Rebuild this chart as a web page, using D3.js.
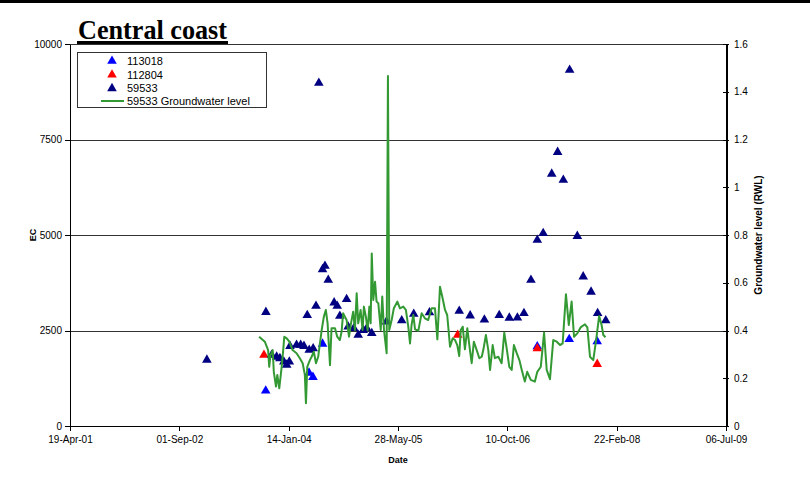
<!DOCTYPE html>
<html>
<head>
<meta charset="utf-8">
<script src="https://d3js.org/d3.v7.min.js"></script>
<style>
  body { margin: 0; background: #fff; }
  text { font-family: "Liberation Sans", Arial, sans-serif; }
  .axis path, .axis line { stroke: #000; shape-rendering: crispEdges; }
  .axis text { font-size: 10px; fill: #000; }
</style>
</head>
<body>
<svg id="chart" width="810" height="477"></svg>
<script>
// ---- data ----
var xTicks = ["2001-04-19", "2002-09-01", "2004-01-14", "2005-05-28", "2006-10-10", "2008-02-22", "2009-07-06"];
var ecTicks = [0, 2500, 5000, 7500, 10000];
var rwlTicks = [0, 0.2, 0.4, 0.6, 0.8, 1, 1.2, 1.4, 1.6];

// EC, bore 113018
var ec113018 = [
  ["2003-10-01", 924], ["2004-04-16", 1390], ["2004-05-04", 1280], ["2004-06-17", 2150],
  ["2007-02-24", 2080], ["2007-07-20", 2270], ["2007-11-25", 2210]
];
// EC, bore 112804
var ec112804 = [
  ["2003-09-23", 1860], ["2006-02-25", 2380], ["2007-02-24", 2030], ["2007-11-25", 1620]
];
// EC, bore 59533
var ec59533 = [
  ["2003-01-05", 1730], ["2003-10-02", 2980], ["2003-10-28", 1860], ["2003-11-20", 1810],
  ["2003-12-05", 1770], ["2003-12-23", 1680], ["2004-01-05", 1600], ["2004-01-17", 1680],
  ["2004-01-20", 2090], ["2004-02-19", 2120], ["2004-03-09", 2120], ["2004-03-24", 2090],
  ["2004-04-17", 1990], ["2004-05-05", 2030], ["2004-04-08", 2900], ["2004-05-18", 3140],
  ["2004-05-31", 8980], ["2004-06-17", 4100], ["2004-06-28", 4190], ["2004-07-13", 3820],
  ["2004-08-09", 3230], ["2004-08-23", 3140], ["2004-09-04", 2880], ["2004-10-05", 3320],
  ["2004-10-12", 2600], ["2004-11-07", 2560], ["2004-11-27", 2380], ["2004-12-20", 2510],
  ["2005-01-05", 2560], ["2005-01-28", 2430], ["2005-04-05", 2730], ["2005-06-14", 2760],
  ["2005-08-08", 2930], ["2005-10-19", 2970], ["2006-03-04", 3010], ["2006-04-23", 2890],
  ["2006-06-27", 2780], ["2006-09-03", 2900], ["2006-10-19", 2830], ["2006-11-25", 2835],
  ["2006-12-25", 2950], ["2007-01-26", 3820], ["2007-02-24", 4870], ["2007-03-23", 5045],
  ["2007-05-01", 6600], ["2007-05-28", 7170], ["2007-06-23", 6440], ["2007-07-22", 9320],
  ["2007-08-26", 4970], ["2007-09-22", 3910], ["2007-10-28", 3510], ["2007-11-27", 2950],
  ["2008-01-03", 2760]
];
// groundwater level (RWL), bore 59533
var rwl59533 = [
  ["2003-09-01", 0.374], ["2003-09-27", 0.353], ["2003-10-12", 0.318], ["2003-10-17", 0.248],
  ["2003-10-23", 0.297], ["2003-11-02", 0.318], ["2003-11-07", 0.227], ["2003-11-17", 0.165],
  ["2003-11-23", 0.214], ["2003-12-02", 0.158], ["2003-12-13", 0.248], ["2003-12-20", 0.318],
  ["2003-12-25", 0.374], ["2004-01-05", 0.367], ["2004-01-17", 0.353], ["2004-02-01", 0.318],
  ["2004-02-19", 0.305], ["2004-03-05", 0.284], ["2004-03-18", 0.263], ["2004-03-28", 0.214],
  ["2004-04-02", 0.095], ["2004-04-08", 0.248], ["2004-04-20", 0.276], ["2004-04-28", 0.290],
  ["2004-05-08", 0.311], ["2004-05-18", 0.263], ["2004-05-28", 0.290], ["2004-06-05", 0.346],
  ["2004-06-13", 0.402], ["2004-06-23", 0.458], ["2004-07-02", 0.486], ["2004-07-10", 0.430],
  ["2004-07-21", 0.255], ["2004-07-28", 0.409], ["2004-08-13", 0.409], ["2004-08-23", 0.374],
  ["2004-09-04", 0.360], ["2004-09-12", 0.395], ["2004-09-19", 0.472], ["2004-09-27", 0.458],
  ["2004-10-05", 0.444], ["2004-10-16", 0.374], ["2004-10-25", 0.430], ["2004-11-04", 0.479],
  ["2004-11-12", 0.402], ["2004-11-20", 0.556], ["2004-11-27", 0.430], ["2004-12-08", 0.486],
  ["2004-12-17", 0.402], ["2004-12-23", 0.500], ["2005-01-01", 0.458], ["2005-01-09", 0.402],
  ["2005-01-17", 0.500], ["2005-01-23", 0.430], ["2005-01-28", 0.723], ["2005-02-04", 0.528],
  ["2005-02-12", 0.604], ["2005-02-19", 0.521], ["2005-02-27", 0.514], ["2005-03-10", 0.402],
  ["2005-03-17", 0.542], ["2005-03-25", 0.402], ["2005-04-06", 0.305], ["2005-04-12", 1.466],
  ["2005-04-18", 0.402], ["2005-04-29", 0.444], ["2005-05-09", 0.493], ["2005-05-25", 0.521],
  ["2005-06-06", 0.493], ["2005-06-21", 0.500], ["2005-07-03", 0.486], ["2005-07-14", 0.416],
  ["2005-07-22", 0.346], ["2005-07-29", 0.423], ["2005-08-06", 0.465], ["2005-08-14", 0.405],
  ["2005-08-29", 0.399], ["2005-09-13", 0.472], ["2005-09-28", 0.451], ["2005-10-13", 0.444],
  ["2005-10-29", 0.493], ["2005-11-13", 0.493], ["2005-11-24", 0.363], ["2005-12-06", 0.583],
  ["2005-12-18", 0.535], ["2005-12-29", 0.486], ["2006-01-08", 0.465], ["2006-01-21", 0.332],
  ["2006-02-02", 0.367], ["2006-02-13", 0.360], ["2006-02-23", 0.339], ["2006-03-04", 0.293],
  ["2006-03-11", 0.402], ["2006-03-20", 0.416], ["2006-03-30", 0.321], ["2006-04-10", 0.409],
  ["2006-04-22", 0.318], ["2006-04-30", 0.263], ["2006-05-10", 0.353], ["2006-05-23", 0.318],
  ["2006-06-04", 0.284], ["2006-06-15", 0.290], ["2006-06-22", 0.318], ["2006-07-04", 0.381],
  ["2006-07-15", 0.318], ["2006-07-23", 0.235], ["2006-08-04", 0.339], ["2006-08-14", 0.284],
  ["2006-08-30", 0.290], ["2006-09-14", 0.263], ["2006-09-26", 0.391], ["2006-10-07", 0.325],
  ["2006-10-19", 0.248], ["2006-10-30", 0.235], ["2006-11-09", 0.339], ["2006-11-22", 0.305],
  ["2006-12-04", 0.276], ["2006-12-15", 0.235], ["2006-12-29", 0.186], ["2007-01-09", 0.227],
  ["2007-01-25", 0.193], ["2007-02-13", 0.186], ["2007-02-24", 0.227], ["2007-03-12", 0.248],
  ["2007-03-27", 0.391], ["2007-04-08", 0.235], ["2007-04-23", 0.196], ["2007-05-08", 0.360],
  ["2007-05-24", 0.353], ["2007-06-08", 0.339], ["2007-06-20", 0.346], ["2007-07-05", 0.552],
  ["2007-07-18", 0.423], ["2007-07-31", 0.521], ["2007-08-11", 0.374], ["2007-08-26", 0.388],
  ["2007-09-10", 0.413], ["2007-09-30", 0.426], ["2007-10-11", 0.413], ["2007-10-23", 0.290],
  ["2007-11-07", 0.276], ["2007-11-19", 0.353], ["2007-12-04", 0.461], ["2007-12-15", 0.423],
  ["2007-12-23", 0.381], ["2008-01-02", 0.372]
];

var parse = d3.timeParse("%Y-%m-%d");

var svg = d3.select("#chart");
var plot = { left: 70, right: 726, top: 44, bottom: 426 };

var x = d3.scaleTime()
    .domain([parse(xTicks[0]), parse(xTicks[xTicks.length - 1])])
    .range([plot.left, plot.right]);
var y = d3.scaleLinear().domain([0, 10000]).range([plot.bottom, plot.top]);
var y2 = d3.scaleLinear().domain([0, 1.6]).range([plot.bottom, plot.top]);

// top rule across the page
svg.append("rect").attr("x", 0).attr("y", 0).attr("width", 810).attr("height", 3).attr("fill", "#000");

// gridlines (plus the top edge of the plot)
svg.append("g").selectAll("line")
    .data(ecTicks.slice(1))
    .enter().append("line")
    .attr("x1", plot.left).attr("x2", plot.right)
    .attr("y1", d => Math.round(y(d)) + 0.5).attr("y2", d => Math.round(y(d)) + 0.5)
    .attr("stroke", "#333").attr("stroke-width", 1);

// axes
svg.append("g")
    .attr("class", "axis")
    .attr("transform", "translate(0," + plot.bottom + ")")
    .call(d3.axisBottom(x)
        .tickValues(xTicks.map(parse))
        .tickSizeInner(5).tickSizeOuter(0).tickPadding(5)
        .tickFormat(d3.timeFormat("%d-%b-%y")));

svg.append("g")
    .attr("class", "axis")
    .attr("transform", "translate(" + plot.left + ",0)")
    .call(d3.axisLeft(y).tickValues(ecTicks).tickSizeInner(5).tickSizeOuter(0).tickPadding(3)
        .tickFormat(d3.format("d")));

var right = svg.append("g")
    .attr("class", "axis")
    .attr("transform", "translate(" + plot.right + ",0)")
    .call(d3.axisRight(y2).tickValues(rwlTicks).tickSizeInner(3).tickSizeOuter(0).tickPadding(5)
        .tickFormat(d => String(+d.toFixed(1))));
right.selectAll(".tick line").attr("x1", -3);
right.select(".domain").attr("stroke", "#555").attr("stroke-width", 2);

// axis titles
svg.append("text")
    .attr("transform", "translate(36," + ((plot.top + plot.bottom) / 2) + ") rotate(-90)")
    .attr("text-anchor", "middle")
    .style("font-size", "9px").style("font-weight", "bold")
    .text("EC");
svg.append("text")
    .attr("x", (plot.left + plot.right) / 2).attr("y", 463)
    .attr("text-anchor", "middle")
    .style("font-size", "9px").style("font-weight", "bold")
    .text("Date");
svg.append("text")
    .attr("transform", "translate(762," + ((plot.top + plot.bottom) / 2) + ") rotate(-90)")
    .attr("text-anchor", "middle")
    .style("font-size", "10px").style("font-weight", "bold")
    .text("Groundwater level (RWL)");

// title
svg.append("text")
    .attr("x", 78).attr("y", 39)
    .attr("textLength", 149).attr("lengthAdjust", "spacingAndGlyphs")
    .style("font-family", "'Liberation Serif', 'Times New Roman', serif")
    .style("font-size", "27px").style("font-weight", "bold")
    .text("Central coast");
svg.append("rect").attr("x", 77).attr("y", 41).attr("width", 151).attr("height", 3).attr("fill", "#000");

// series
var tri = d3.symbol().type(d3.symbolTriangle).size(40);
var series = [
    { name: "113018", data: ec113018, color: "#0000ff" },
    { name: "112804", data: ec112804, color: "#ff0000" },
    { name: "59533", data: ec59533, color: "#000080" }
];
series.forEach(function (s) {
    svg.append("g").selectAll("path")
        .data(s.data)
        .enter().append("path")
        .attr("d", tri)
        .attr("transform", d => "translate(" + x(parse(d[0])) + "," + y(d[1]) + ")")
        .attr("fill", s.color);
});

svg.append("path")
    .datum(rwl59533)
    .attr("fill", "none")
    .attr("stroke", "#339933")
    .attr("stroke-width", 2)
    .attr("stroke-linejoin", "round")
    .attr("d", d3.line()
        .x(d => x(parse(d[0])))
        .y(d => y2(d[1])));

// legend
var legend = svg.append("g");
legend.append("rect")
    .attr("x", 77.5).attr("y", 52.5).attr("width", 189).attr("height", 55)
    .attr("fill", "#fff").attr("stroke", "#333").attr("stroke-width", 1);
series.forEach(function (s, i) {
    legend.append("path")
        .attr("d", tri)
        .attr("transform", "translate(112," + (61 + i * 13.7) + ")")
        .attr("fill", s.color);
    legend.append("text")
        .attr("x", 127).attr("y", 61 + i * 13.7 + 4)
        .style("font-size", "11px")
        .text(s.name);
});
legend.append("line")
    .attr("x1", 101).attr("x2", 124).attr("y1", 101).attr("y2", 101)
    .attr("stroke", "#339933").attr("stroke-width", 2);
legend.append("text")
    .attr("x", 127).attr("y", 105)
    .style("font-size", "11px")
    .text("59533 Groundwater level");
</script>
</body>
</html>
